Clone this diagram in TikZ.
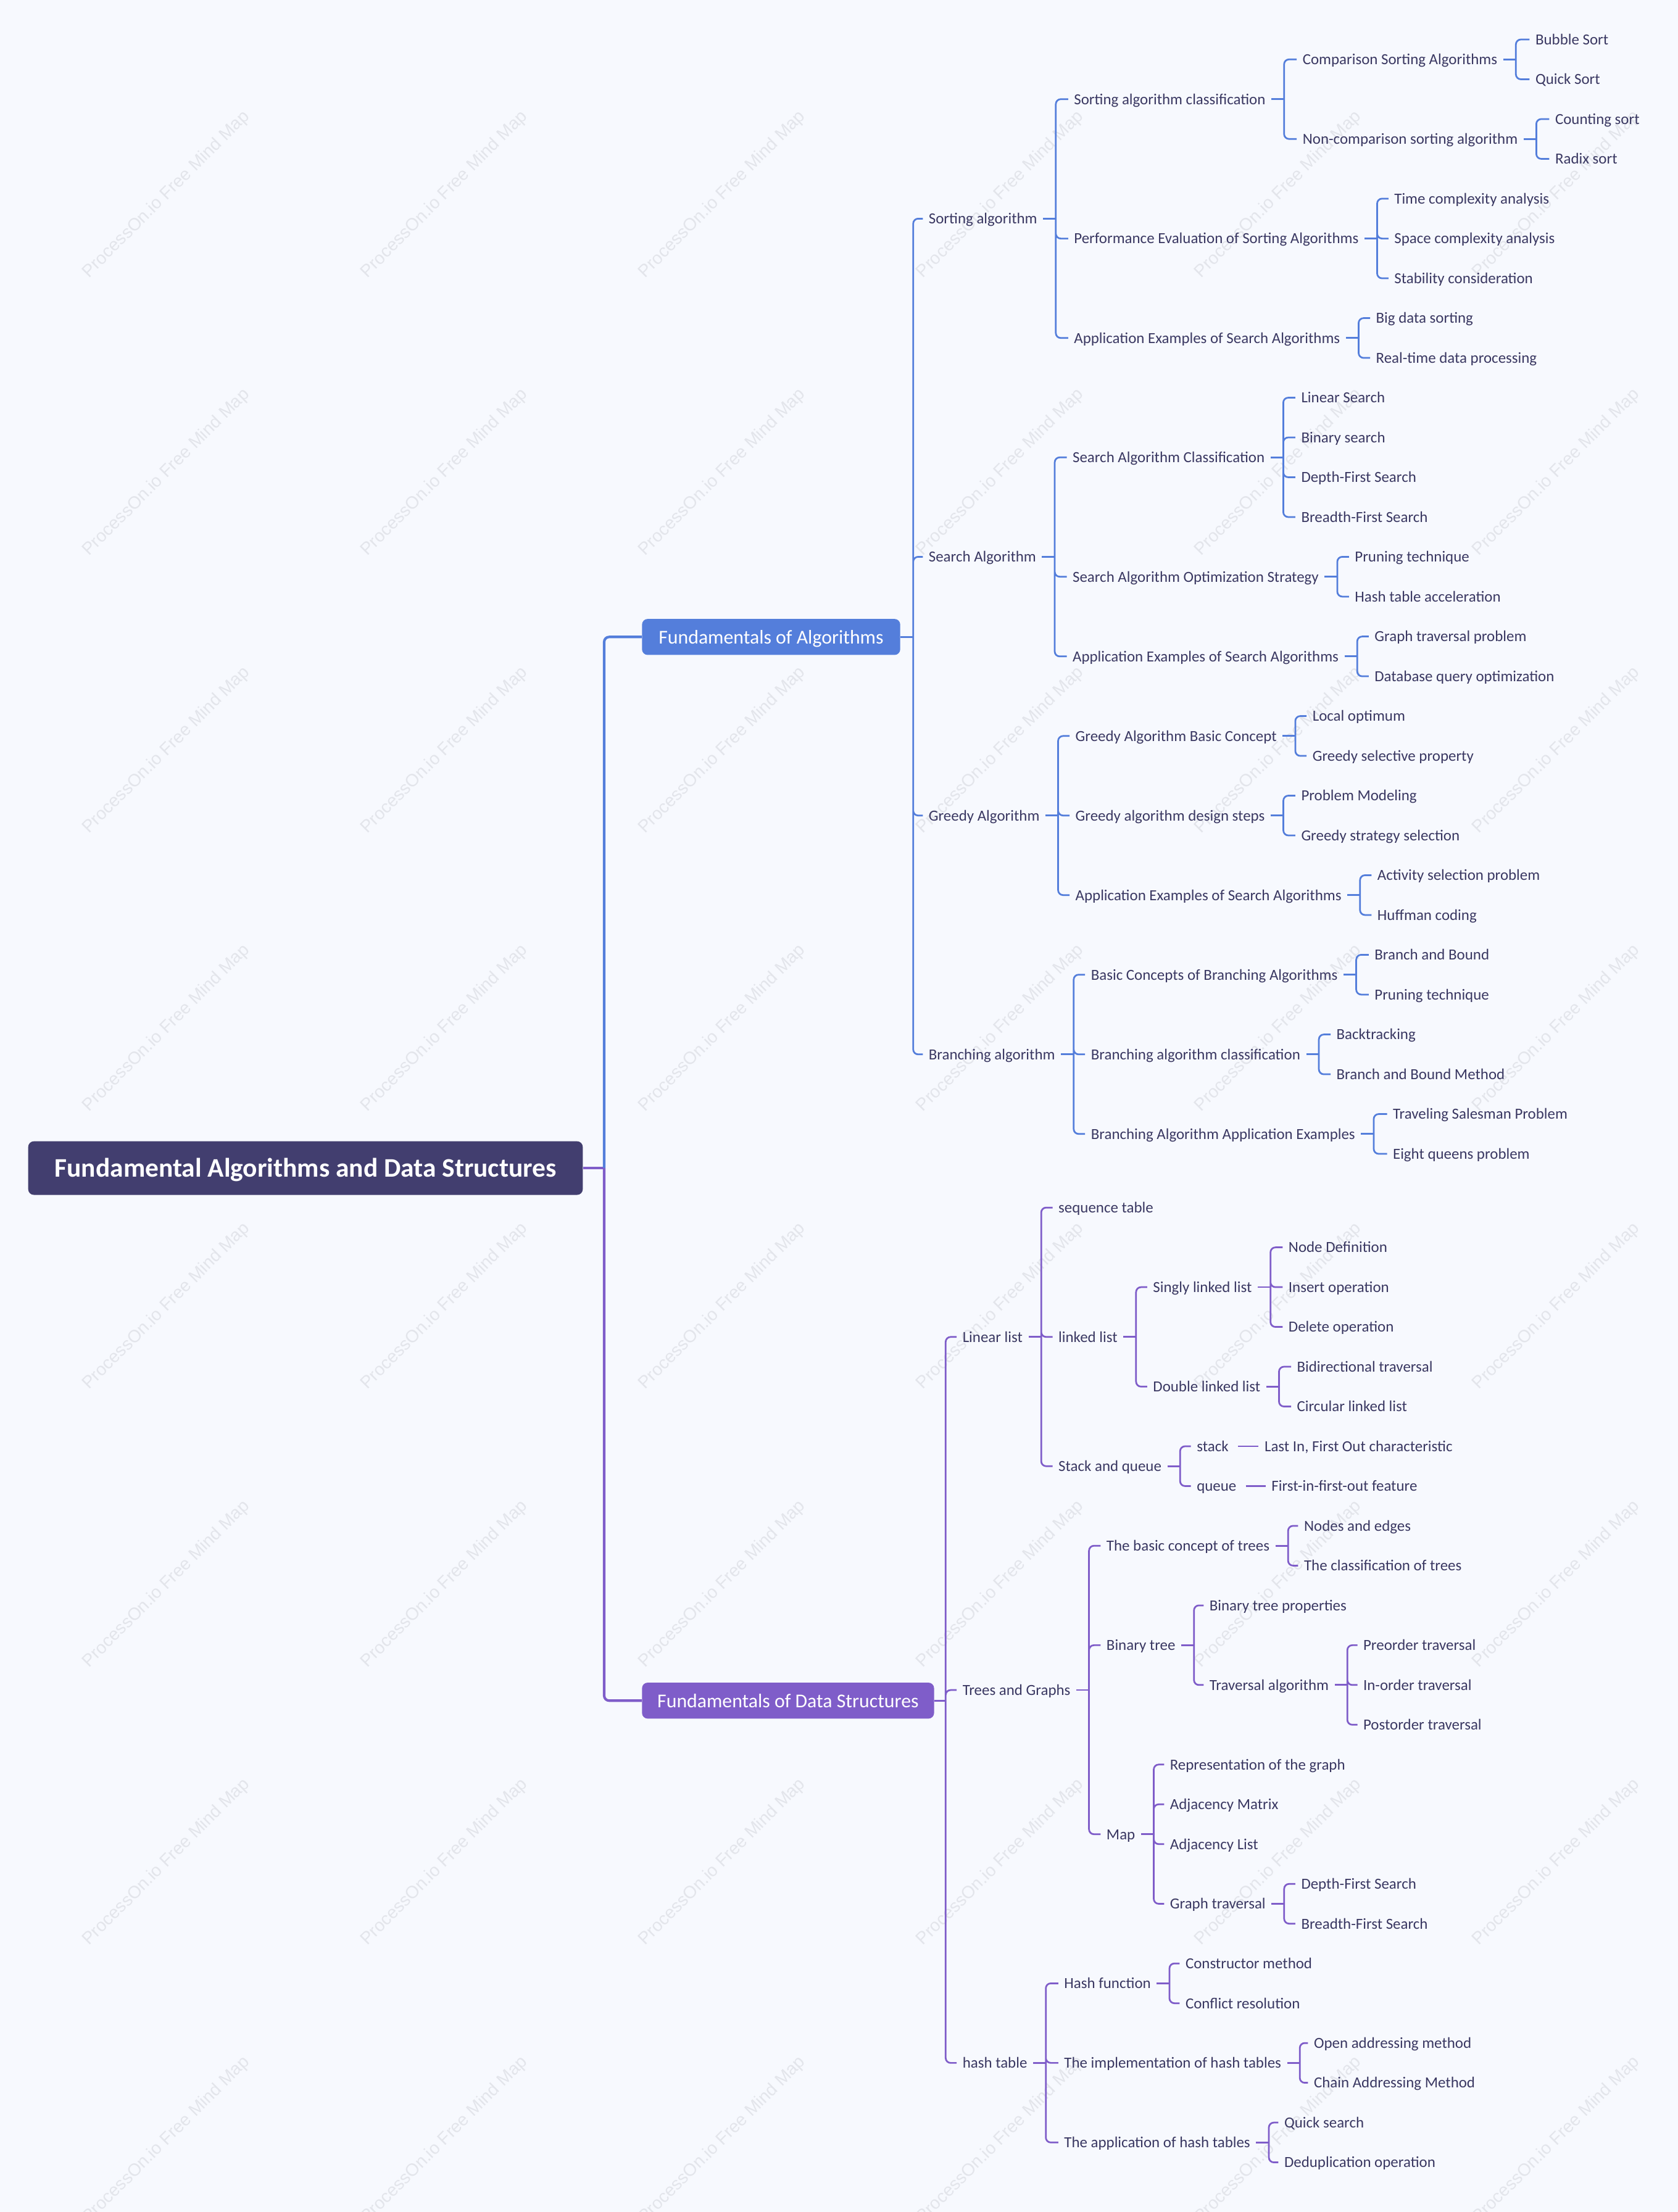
\documentclass[tikz,border=0pt]{standalone}
\usepackage{fontspec}
\setmainfont{Carlito}
\newfontfamily\markfont{Liberation Sans}
\definecolor{paper}{HTML}{F7F9FE}
\definecolor{markc}{HTML}{E3E5EB}
\definecolor{ink}{HTML}{3A3862}
\definecolor{rootc}{HTML}{423E6F}
\definecolor{algc}{HTML}{547EDB}
\definecolor{dsc}{HTML}{7F5DC9}
\tikzset{
  leaf/.style={anchor=west, inner xsep=4pt, inner ysep=1pt, text=ink,
    font=\fontsize{10.9}{13}\selectfont, text height=8.3pt, text depth=1pt},
  rootbox/.style={fill=rootc, rounded corners=4pt, text=white, inner sep=0pt,
    minimum width=393pt, minimum height=38pt,
    font=\bfseries\fontsize{19}{22}\selectfont, text height=13pt, text depth=0pt},
  topic/.style={rounded corners=4pt, text=white, inner sep=0pt, minimum height=25.5pt,
    font=\fontsize{13.9}{16}\selectfont, text height=9.5pt, text depth=0pt},
  alink/.style={draw=algc, line width=1.2pt, rounded corners=3.5pt},
  dlink/.style={draw=dsc, line width=1.2pt, rounded corners=3.5pt},
  atrunk/.style={alink, line width=1.8pt},
  dtrunk/.style={dlink, line width=1.8pt},
  wmark/.style={rotate=45, text=markc, font=\markfont\fontsize{12.4}{14}\selectfont}
}
\begin{document}
\begin{tikzpicture}[x=1pt,y=-1pt]
\fill[paper] (0,0) rectangle (1189,1568);
\useasboundingbox (0,0) rectangle (1189,1568);
\foreach \i in {0,...,5}
  \foreach \j in {0,...,7}
    \node[wmark] at (118+197*\i,138+197*\j) {ProcessOn.io Free Mind Map};

% root and the two main branches
\node[rootbox] (root) at (216.5,828) {Fundamental Algorithms and Data Structures};
\node[topic, fill=algc, minimum width=183pt] (alg) at (546.5,451.5) {Fundamentals of Algorithms};
\node[topic, fill=dsc, minimum width=207pt] (ds) at (558.5,1205.5) {Fundamentals of Data Structures};
\draw[dtrunk] (root.east) -- ++(15,0) coordinate (rootB);
\draw[atrunk] (rootB) |- (alg.west);
\draw[dtrunk] (rootB) |- (ds.west);

% algorithms
\draw[alink] (alg.east) -- ++(9,0) coordinate (algB);
\node[leaf] (sort) at (654,155) {Sorting algorithm};
\node[leaf] (srch) at (654,394.7) {Search Algorithm};
\node[leaf] (grdy) at (654,578.1) {Greedy Algorithm};
\node[leaf] (brch) at (654,747.4) {Branching algorithm};
\draw[alink] (algB) |- (sort.west) (algB) |- (srch.west) (algB) |- (grdy.west) (algB) |- (brch.west);

% sorting
\draw[alink] (sort.east) -- ++(9,0) coordinate (sortB);
\node[leaf] (scls) at (757,70.3) {Sorting algorithm classification};
\node[leaf] (perf) at (757,169.1) {Performance Evaluation of Sorting Algorithms};
\node[leaf] (sapp) at (757,239.6) {Application Examples of Search Algorithms};
\draw[alink] (sortB) |- (scls.west) (sortB) |- (perf.west) (sortB) |- (sapp.west);

\draw[alink] (scls.east) -- ++(9,0) coordinate (sclsB);
\node[leaf] (cmp) at (919,42.1) {Comparison Sorting Algorithms};
\node[leaf] (ncmp) at (919,98.5) {Non-comparison sorting algorithm};
\draw[alink] (sclsB) |- (cmp.west) (sclsB) |- (ncmp.west);

\draw[alink] (cmp.east) -- ++(9,0) coordinate (cmpB);
\node[leaf] (bub) at (1084,28) {Bubble Sort};
\node[leaf] (qck) at (1084,56.2) {Quick Sort};
\draw[alink] (cmpB) |- (bub.west) (cmpB) |- (qck.west);

\draw[alink] (ncmp.east) -- ++(9,0) coordinate (ncmpB);
\node[leaf] (cnt) at (1098,84.4) {Counting sort};
\node[leaf] (rdx) at (1098,112.6) {Radix sort};
\draw[alink] (ncmpB) |- (cnt.west) (ncmpB) |- (rdx.west);

\draw[alink] (perf.east) -- ++(9,0) coordinate (perfB);
\node[leaf] (tca) at (984,140.8) {Time complexity analysis};
\node[leaf] (sca) at (984,169.1) {Space complexity analysis};
\node[leaf] (stc) at (984,197.3) {Stability consideration};
\draw[alink] (perfB) |- (tca.west) (perfB) |- (sca.west) (perfB) |- (stc.west);

\draw[alink] (sapp.east) -- ++(9,0) coordinate (sappB);
\node[leaf] (bds) at (971,225.5) {Big data sorting};
\node[leaf] (rtd) at (971,253.7) {Real-time data processing};
\draw[alink] (sappB) |- (bds.west) (sappB) |- (rtd.west);

% searching
\draw[alink] (srch.east) -- ++(9,0) coordinate (srchB);
\node[leaf] (scl) at (756,324.2) {Search Algorithm Classification};
\node[leaf] (sopt) at (756,408.8) {Search Algorithm Optimization Strategy};
\node[leaf] (sex) at (756,465.3) {Application Examples of Search Algorithms};
\draw[alink] (srchB) |- (scl.west) (srchB) |- (sopt.west) (srchB) |- (sex.west);

\draw[alink] (scl.east) -- ++(9,0) coordinate (sclB);
\node[leaf] (lin) at (918,281.9) {Linear Search};
\node[leaf] (bin) at (918,310.1) {Binary search};
\node[leaf] (dfs) at (918,338.3) {Depth-First Search};
\node[leaf] (bfs) at (918,366.5) {Breadth-First Search};
\draw[alink] (sclB) |- (lin.west) (sclB) |- (bin.west) (sclB) |- (dfs.west) (sclB) |- (bfs.west);

\draw[alink] (sopt.east) -- ++(9,0) coordinate (soptB);
\node[leaf] (prn) at (956,394.7) {Pruning technique};
\node[leaf] (hta) at (956,422.9) {Hash table acceleration};
\draw[alink] (soptB) |- (prn.west) (soptB) |- (hta.west);

\draw[alink] (sex.east) -- ++(9,0) coordinate (sexB);
\node[leaf] (gtp) at (970,451.2) {Graph traversal problem};
\node[leaf] (dqo) at (970,479.4) {Database query optimization};
\draw[alink] (sexB) |- (gtp.west) (sexB) |- (dqo.west);

% greedy
\draw[alink] (grdy.east) -- ++(9,0) coordinate (grdyB);
\node[leaf] (gbc) at (758,521.7) {Greedy Algorithm Basic Concept};
\node[leaf] (gds) at (758,578.1) {Greedy algorithm design steps};
\node[leaf] (gex) at (758,634.5) {Application Examples of Search Algorithms};
\draw[alink] (grdyB) |- (gbc.west) (grdyB) |- (gds.west) (grdyB) |- (gex.west);

\draw[alink] (gbc.east) -- ++(9,0) coordinate (gbcB);
\node[leaf] (lop) at (926,507.6) {Local optimum};
\node[leaf] (gsp) at (926,535.8) {Greedy selective property};
\draw[alink] (gbcB) |- (lop.west) (gbcB) |- (gsp.west);

\draw[alink] (gds.east) -- ++(9,0) coordinate (gdsB);
\node[leaf] (pmd) at (918,564) {Problem Modeling};
\node[leaf] (gss) at (918,592.2) {Greedy strategy selection};
\draw[alink] (gdsB) |- (pmd.west) (gdsB) |- (gss.west);

\draw[alink] (gex.east) -- ++(9,0) coordinate (gexB);
\node[leaf] (asp) at (972,620.4) {Activity selection problem};
\node[leaf] (huf) at (972,648.6) {Huffman coding};
\draw[alink] (gexB) |- (asp.west) (gexB) |- (huf.west);

% branching
\draw[alink] (brch.east) -- ++(9,0) coordinate (brchB);
\node[leaf] (bbc) at (769,690.9) {Basic Concepts of Branching Algorithms};
\node[leaf] (bcl) at (769,747.4) {Branching algorithm classification};
\node[leaf] (bex) at (769,803.8) {Branching Algorithm Application Examples};
\draw[alink] (brchB) |- (bbc.west) (brchB) |- (bcl.west) (brchB) |- (bex.west);

\draw[alink] (bbc.east) -- ++(9,0) coordinate (bbcB);
\node[leaf] (bnb) at (970,676.8) {Branch and Bound};
\node[leaf] (prn2) at (970,705) {Pruning technique};
\draw[alink] (bbcB) |- (bnb.west) (bbcB) |- (prn2.west);

\draw[alink] (bcl.east) -- ++(9,0) coordinate (bclB);
\node[leaf] (bkt) at (943,733.3) {Backtracking};
\node[leaf] (bbm) at (943,761.5) {Branch and Bound Method};
\draw[alink] (bclB) |- (bkt.west) (bclB) |- (bbm.west);

\draw[alink] (bex.east) -- ++(9,0) coordinate (bexB);
\node[leaf] (tsp) at (983,789.7) {Traveling Salesman Problem};
\node[leaf] (eqp) at (983,817.9) {Eight queens problem};
\draw[alink] (bexB) |- (tsp.west) (bexB) |- (eqp.west);

% data structures
\draw[dlink] (ds.east) -- ++(8,0) coordinate (dsB);
\node[leaf] (llst) at (678,947.7) {Linear list};
\node[leaf] (tg) at (678,1198) {Trees and Graphs};
\node[leaf] (htb) at (678,1462.3) {hash table};
\draw[dlink] (dsB) |- (llst.west) (dsB) |- (tg.west) (dsB) |- (htb.west);

% linear list
\draw[dlink] (llst.east) -- ++(9,0) coordinate (llstB);
\node[leaf] (seq) at (746,856) {sequence table};
\node[leaf] (lnk) at (746,947.7) {linked list};
\node[leaf] (snq) at (746,1039.3) {Stack and queue};
\draw[dlink] (llstB) |- (seq.west) (llstB) |- (lnk.west) (llstB) |- (snq.west);

\draw[dlink] (lnk.east) -- ++(9,0) coordinate (lnkB);
\node[leaf] (sll) at (813,912.4) {Singly linked list};
\node[leaf] (dll) at (813,982.9) {Double linked list};
\draw[dlink] (lnkB) |- (sll.west) (lnkB) |- (dll.west);

\draw[dlink] (sll.east) -- ++(9,0) coordinate (sllB);
\node[leaf] (ndef) at (909,884.2) {Node Definition};
\node[leaf] (ins) at (909,912.4) {Insert operation};
\node[leaf] (del) at (909,940.6) {Delete operation};
\draw[dlink] (sllB) |- (ndef.west) (sllB) |- (ins.west) (sllB) |- (del.west);

\draw[dlink] (dll.east) -- ++(9,0) coordinate (dllB);
\node[leaf] (bdt) at (915,968.8) {Bidirectional traversal};
\node[leaf] (cll) at (915,997) {Circular linked list};
\draw[dlink] (dllB) |- (bdt.west) (dllB) |- (cll.west);

\draw[dlink] (snq.east) -- ++(9,0) coordinate (snqB);
\node[leaf] (stk) at (844,1025.2) {stack};
\node[leaf] (que) at (844,1053.4) {queue};
\draw[dlink] (snqB) |- (stk.west) (snqB) |- (que.west);
\node[leaf] (lifo) at (892,1025.2) {Last In, First Out characteristic};
\node[leaf] (fifo) at (897,1053.4) {First-in-first-out feature};
\draw[dlink, shorten <=2.5pt] (stk.east) -- (lifo.west);
\draw[dlink, shorten <=2.5pt] (que.east) -- (fifo.west);

% trees and graphs
\draw[dlink] (tg.east) -- ++(9,0) coordinate (tgB);
\node[leaf] (bct) at (780,1095.7) {The basic concept of trees};
\node[leaf] (btr) at (780,1166.2) {Binary tree};
\node[leaf] (map) at (780,1300.2) {Map};
\draw[dlink] (tgB) |- (bct.west) (tgB) |- (btr.west) (tgB) |- (map.west);

\draw[dlink] (bct.east) -- ++(9,0) coordinate (bctB);
\node[leaf] (nae) at (920,1081.6) {Nodes and edges};
\node[leaf] (cot) at (920,1109.8) {The classification of trees};
\draw[dlink] (bctB) |- (nae.west) (bctB) |- (cot.west);

\draw[dlink] (btr.east) -- ++(9,0) coordinate (btrB);
\node[leaf] (btp) at (853,1138) {Binary tree properties};
\node[leaf] (tra) at (853,1194.4) {Traversal algorithm};
\draw[dlink] (btrB) |- (btp.west) (btrB) |- (tra.west);

\draw[dlink] (tra.east) -- ++(9,0) coordinate (traB);
\node[leaf] (pre) at (962,1166.2) {Preorder traversal};
\node[leaf] (ino) at (962,1194.4) {In-order traversal};
\node[leaf] (pos) at (962,1222.6) {Postorder traversal};
\draw[dlink] (traB) |- (pre.west) (traB) |- (ino.west) (traB) |- (pos.west);

\draw[dlink] (map.east) -- ++(9,0) coordinate (mapB);
\node[leaf] (rep) at (825,1250.8) {Representation of the graph};
\node[leaf] (adm) at (825,1279) {Adjacency Matrix};
\node[leaf] (adl) at (825,1307.2) {Adjacency List};
\node[leaf] (gtr) at (825,1349.5) {Graph traversal};
\draw[dlink] (mapB) |- (rep.west) (mapB) |- (adm.west) (mapB) |- (adl.west) (mapB) |- (gtr.west);

\draw[dlink] (gtr.east) -- ++(9,0) coordinate (gtrB);
\node[leaf] (gdfs) at (918,1335.4) {Depth-First Search};
\node[leaf] (gbfs) at (918,1363.6) {Breadth-First Search};
\draw[dlink] (gtrB) |- (gdfs.west) (gtrB) |- (gbfs.west);

% hash table
\draw[dlink] (htb.east) -- ++(9,0) coordinate (htbB);
\node[leaf] (hfn) at (750,1405.9) {Hash function};
\node[leaf] (himp) at (750,1462.3) {The implementation of hash tables};
\node[leaf] (happ) at (750,1518.7) {The application of hash tables};
\draw[dlink] (htbB) |- (hfn.west) (htbB) |- (himp.west) (htbB) |- (happ.west);

\draw[dlink] (hfn.east) -- ++(9,0) coordinate (hfnB);
\node[leaf] (con) at (836,1391.8) {Constructor method};
\node[leaf] (cfr) at (836,1420) {Conflict resolution};
\draw[dlink] (hfnB) |- (con.west) (hfnB) |- (cfr.west);

\draw[dlink] (himp.east) -- ++(9,0) coordinate (himpB);
\node[leaf] (oam) at (927,1448.2) {Open addressing method};
\node[leaf] (cam) at (927,1476.4) {Chain Addressing Method};
\draw[dlink] (himpB) |- (oam.west) (himpB) |- (cam.west);

\draw[dlink] (happ.east) -- ++(9,0) coordinate (happB);
\node[leaf] (qs) at (906,1504.6) {Quick search};
\node[leaf] (ddo) at (906,1532.8) {Deduplication operation};
\draw[dlink] (happB) |- (qs.west) (happB) |- (ddo.west);
\end{tikzpicture}
\end{document}
